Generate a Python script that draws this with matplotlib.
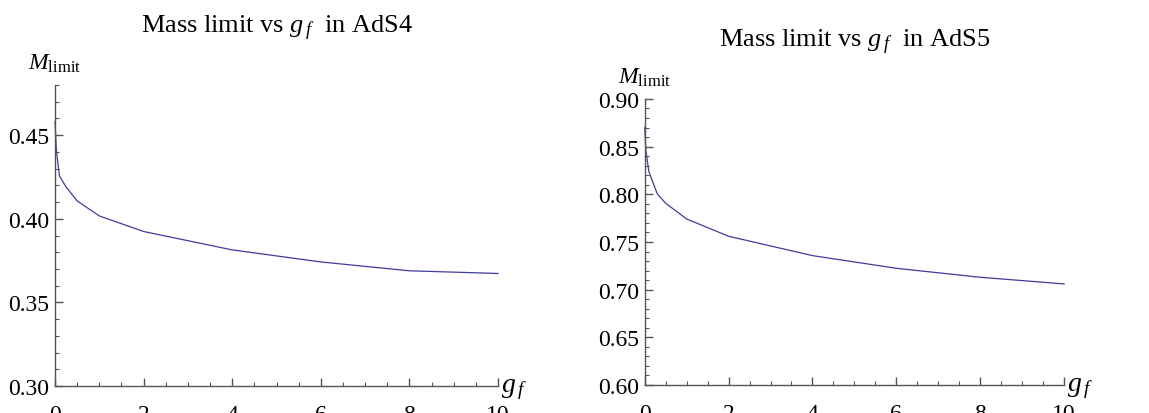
import matplotlib.pyplot as plt
from matplotlib.ticker import MultipleLocator, FormatStrFormatter

plt.rcParams['font.family'] = ['Liberation Serif', 'DejaVu Serif']
plt.rcParams['mathtext.fontset'] = 'custom'
plt.rcParams['mathtext.rm'] = 'Liberation Serif'
plt.rcParams['mathtext.it'] = 'Liberation Serif:italic'

# ---------- data ----------
gf_ads4 = [0, 0.03, 0.1, 0.25, 0.5, 1, 2, 4, 6, 8, 10]
m_ads4 = [0.458, 0.441, 0.4256, 0.419, 0.4107, 0.4017, 0.3924, 0.3814, 0.3742, 0.3689, 0.3673]

gf_ads5 = [0, 0.03, 0.1, 0.3, 0.5, 1, 2, 4, 6, 8, 10]
m_ads5 = [0.870, 0.845, 0.8237, 0.8004, 0.7906, 0.7741, 0.756, 0.7357, 0.7224, 0.7130, 0.7060]

line_color = "#3D3D99"
axis_color = "#555555"

fig = plt.figure(figsize=(11.49, 4.14), dpi=100)
ax1 = fig.add_axes([0.0479, 0.0652, 0.3856, 0.727])
ax2 = fig.add_axes([0.5611, 0.0676, 0.365, 0.691])


def style_axes(ax, title, ylim, ymajor):
    ax.set_xlim(0, 10)
    ax.set_ylim(*ylim)
    for side in ["top", "right"]:
        ax.spines[side].set_visible(False)
    for side in ["left", "bottom"]:
        ax.spines[side].set_color(axis_color)
        ax.spines[side].set_linewidth(1.0)
    ax.xaxis.set_major_locator(MultipleLocator(2))
    ax.xaxis.set_minor_locator(MultipleLocator(0.5))
    ax.yaxis.set_major_locator(MultipleLocator(ymajor))
    ax.yaxis.set_minor_locator(MultipleLocator(0.01))
    ax.yaxis.set_major_formatter(FormatStrFormatter("%.2f"))
    ax.tick_params(which="major", direction="in", length=6, width=1, color=axis_color, labelsize=17)
    ax.tick_params(which="minor", direction="in", length=3, width=0.8, color=axis_color)
    ax.tick_params(axis="x", which="major", pad=13)
    ax.tick_params(axis="y", which="major", pad=4)
    ax.set_title(title, fontsize=19, pad=38)
    ax.annotate(r"$M_{\mathrm{limit}}$", xy=(0, 1), xycoords="axes fraction",
                xytext=(0, 8), textcoords="offset points",
                ha="center", va="bottom", fontsize=17, annotation_clip=False)
    ax.annotate(r"$g_{\,f}$", xy=(1, 0), xycoords="axes fraction",
                xytext=(2, -2), textcoords="offset points",
                ha="left", va="center", fontsize=20, annotation_clip=False)


ax1.plot(gf_ads4, m_ads4, color=line_color, lw=0.9, clip_on=False)
style_axes(ax1, r"Mass limit vs $g_{\,f}$  in AdS4", (0.30, 0.48), 0.05)

ax2.plot(gf_ads5, m_ads5, color=line_color, lw=0.9, clip_on=False)
style_axes(ax2, r"Mass limit vs $g_{\,f}$  in AdS5", (0.60, 0.90), 0.05)

fig.savefig("out.png", dpi=100)
